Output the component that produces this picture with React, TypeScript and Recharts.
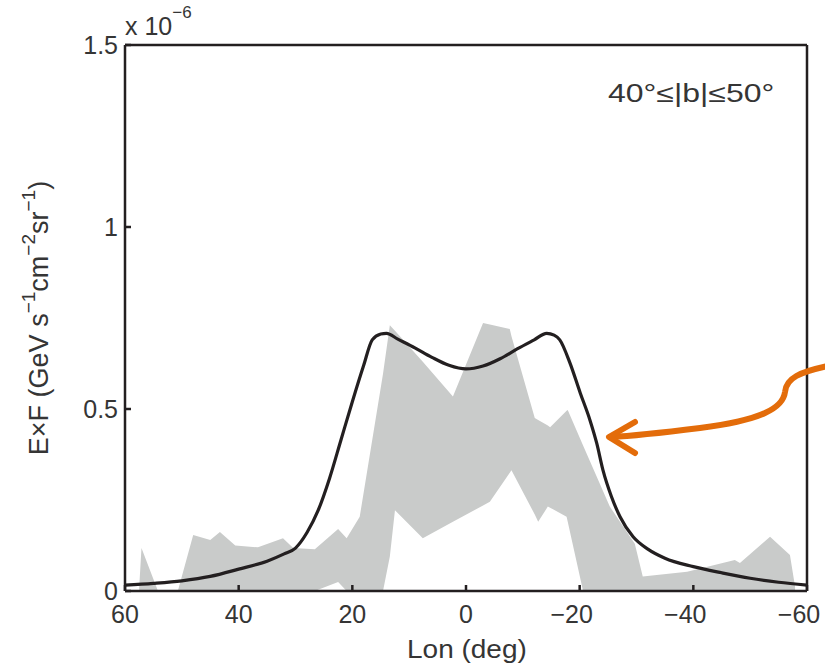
import { ComposedChart, Area, Line, XAxis, YAxis } from 'recharts';

// longitude ticks (deg) and flux ticks (units of 1e-6)
const lonTicks = [60, 40, 20, 0, -20, -40, -60];
const fluxTicks = [0, 0.5, 1, 1.5];

// measured range (grey band)
const bandLon = [57.5, 57.1, 54.2, 50.7, 48.0, 45.0, 43.3, 40.6, 36.6, 32.2, 30.4, 26.6, 22.5, 21.0, 18.7, 14.6, 13.4, 12.5, 7.6, 2.3, -3.0, -4.2, -7.7, -8.0, -12.1, -12.7, -14.4, -14.8, -17.7, -17.9, -20.6, -25.3, -29.7, -31.1, -38.9, -47.3, -48.2, -53.5, -57.0, -57.9];
const bandLow = [0, 0, 0, 0, 0, 0, 0, 0, 0, 0, 0, 0, 0.025, 0, 0, 0, 0.095, 0.222, 0.145, 0.19, 0.235, 0.245, 0.325, 0.332, 0.21, 0.19, 0.232, 0.229, 0.204, 0.19, 0, 0, 0, 0, 0, 0, 0, 0, 0, 0];
const bandHigh = [0.01, 0.118, 0, 0, 0.154, 0.14, 0.162, 0.125, 0.12, 0.145, 0.118, 0.115, 0.17, 0.145, 0.204, 0.597, 0.73, 0.715, 0.63, 0.534, 0.736, 0.732, 0.72, 0.7, 0.475, 0.47, 0.455, 0.45, 0.495, 0.497, 0.4, 0.232, 0.13, 0.04, 0.053, 0.085, 0.077, 0.149, 0.099, 0.012];

// model curve
const modelLon = [60, 55, 50, 45, 40, 35, 32, 30, 28, 26, 24, 22, 20, 18, 16.5, 15, 14, 12, 9, 6, 3, 0, -3, -6, -9, -12, -14.2, -15.5, -16.5, -18.3, -20.1, -21.8, -23, -24.1, -25.6, -27.1, -29.4, -32, -35, -40, -45, -50, -55, -60];
const modelFlux = [0.016, 0.021, 0.028, 0.04, 0.06, 0.082, 0.102, 0.118, 0.16, 0.222, 0.31, 0.415, 0.52, 0.62, 0.69, 0.706, 0.708, 0.692, 0.668, 0.642, 0.62, 0.61, 0.618, 0.638, 0.665, 0.69, 0.708, 0.703, 0.69, 0.626, 0.544, 0.47, 0.406, 0.332, 0.259, 0.204, 0.149, 0.115, 0.09, 0.067, 0.05, 0.035, 0.024, 0.016];

const bandData = bandLon.map((lon, i) => ({ lon, low: bandLow[i], high: bandHigh[i] }));
const modelData = modelLon.map((lon, i) => ({ lon, flux: modelFlux[i] }));

const INK = '#231f20';
const TXT = '#353535';
const FONT = '"Liberation Sans", Arial, sans-serif';

const fmt = (v: number) => (v === 0 ? '0' : v === 0.5 ? '0.5' : String(v));

// negative labels sit a little left of their tick in the original
function LonTick(props: any) {
  const { x, y, payload } = props;
  const v = payload.value as number;
  const label = v < 0 ? '\u2212' + Math.abs(v) : String(v);
  return (
    <text x={x - (v < 0 ? 8 : 0)} y={y} dy="0.71em" textAnchor="middle" fill={TXT} fontSize={25} fontFamily={FONT}>
      {label}
    </text>
  );
}

export default function App() {
  return (
    <div style={{ position: 'relative', width: 825, height: 666, fontFamily: FONT }}>
      <style>{`body{margin:0}`}</style>
      <ComposedChart width={825} height={666} margin={{ top: 43, right: 16, bottom: 35, left: 65 }}>
        <XAxis
          dataKey="lon"
          type="number"
          domain={[-60, 60]}
          reversed
          ticks={lonTicks}
          height={40}
          allowDataOverflow
          stroke={INK}
          strokeWidth={2.5}
          tickSize={-6}
          tickMargin={20}
          tick={<LonTick />}
        />
        <XAxis
          xAxisId="top"
          orientation="top"
          type="number"
          domain={[-60, 60]}
          reversed
          ticks={lonTicks}
          height={2}
          stroke={INK}
          strokeWidth={2.5}
          tickSize={-6}
          tick={false}
        />
        <YAxis
          type="number"
          domain={[0, 1.5]}
          ticks={fluxTicks}
          tickFormatter={fmt}
          width={60}
          stroke={INK}
          strokeWidth={2.5}
          tickSize={-6}
          tickMargin={13}
          tick={{ fill: TXT, fontSize: 25, fontFamily: FONT }}
        />
        <YAxis
          yAxisId="right"
          orientation="right"
          type="number"
          domain={[0, 1.5]}
          ticks={fluxTicks}
          width={2}
          stroke={INK}
          strokeWidth={2.5}
          tickSize={-6}
          tick={false}
        />
        <Area
          data={bandData}
          dataKey={(d: any) => [d.low, d.high]}
          type="linear"
          stroke="none"
          fill="#c9cbca"
          fillOpacity={1}
          isAnimationActive={false}
        />
        <Line
          data={modelData}
          dataKey="flux"
          type="monotone"
          stroke={INK}
          strokeWidth={3.2}
          dot={false}
          isAnimationActive={false}
        />
      </ComposedChart>
      <svg width={825} height={666} style={{ position: 'absolute', left: 0, top: 0, pointerEvents: 'none' }}>
        <text x={125} y={35} fontSize={25} fill={TXT} fontFamily={FONT}>
          x 10
          <tspan dy={-17} fontSize={17}>{'\u22126'}</tspan>
        </text>
        <text transform="translate(608,102) scale(1.28,1)" fontSize={25} fill={TXT} fontFamily={FONT}>
          40°≤|b|≤50°
        </text>
        <text transform="translate(407,658) scale(1.12,1)" fontSize={25} fill={TXT} fontFamily={FONT}>
          Lon (deg)
        </text>
        <text transform="translate(48,318) rotate(-90)" fontSize={27} fill={TXT} fontFamily={FONT} textAnchor="middle">
          E×F (GeV s
          <tspan dy={-13} fontSize={19}>{'\u22121'}</tspan>
          <tspan dy={13}>cm</tspan>
          <tspan dy={-13} fontSize={19}>{'\u22122'}</tspan>
          <tspan dy={13}>sr</tspan>
          <tspan dy={-13} fontSize={19}>{'\u22121'}</tspan>
          <tspan dy={13}>)</tspan>
        </text>
        <path
          d="M 828 366 C 800 372, 786 378, 785 392 C 783 408, 762 420, 700 428 C 660 433, 632 436, 611 437"
          fill="none"
          stroke="#e36c0a"
          strokeWidth={6}
          strokeLinecap="round"
        />
        <path d="M 635 422 L 609 437 L 635 453" fill="none" stroke="#e36c0a" strokeWidth={6} strokeLinecap="round" strokeLinejoin="round" />
      </svg>
    </div>
  );
}
